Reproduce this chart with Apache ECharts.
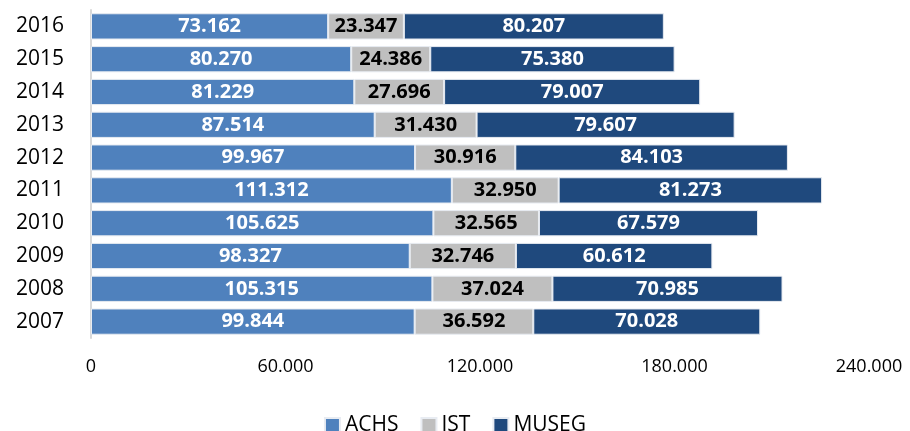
<!DOCTYPE html>
<html lang="es">
  <head>
    <meta charset="utf-8" />
    <title>ACHS IST MUSEG</title>
    <script src="https://cdn.jsdelivr.net/npm/echarts@6/dist/echarts.min.js"></script>
    <style>
      html, body { margin: 0; padding: 0; background: #fff; }
      #main { width: 910px; height: 431px; }
    </style>
  </head>
  <body>
    <div id="main"></div>
    <script>
      var years = ["2007", "2008", "2009", "2010", "2011", "2012", "2013", "2014", "2015", "2016"];
      var achs = [99844, 105315, 98327, 105625, 111312, 99967, 87514, 81229, 80270, 73162];
      var ist = [36592, 37024, 32746, 32565, 32950, 30916, 31430, 27696, 24386, 23347];
      var museg = [70028, 70985, 60612, 67579, 81273, 84103, 79607, 79007, 75380, 80207];

      var font = "Open Sans, Liberation Sans, sans-serif";

      // separador de miles con punto
      function fmt(v) {
        return String(v).replace(/\B(?=(\d{3})+(?!\d))/g, ".");
      }

      function serie(name, data, color, labelColor) {
        return {
          name: name,
          type: "bar",
          stack: "total",
          data: data,
          barCategoryGap: "20%",
          itemStyle: { color: color, borderColor: "#e8ecf2", borderWidth: 1 },
          label: {
            show: true,
            position: "inside",
            color: labelColor,
            fontFamily: font,
            fontWeight: "bold",
            fontSize: 20,
            formatter: function (p) { return fmt(p.value); }
          }
        };
      }

      var chart = echarts.init(document.getElementById("main"));
      chart.setOption({
        animation: false,
        grid: { left: 91, right: 41, top: 10, bottom: 93 },
        legend: {
          top: 410,
          left: "center",
          itemWidth: 15,
          itemHeight: 15,
          itemGap: 22,
          icon: "rect",
          textStyle: { fontFamily: font, fontSize: 21, color: "#000" },
          data: ["ACHS", "IST", "MUSEG"]
        },
        xAxis: {
          type: "value",
          min: 0,
          max: 240000,
          interval: 60000,
          axisLine: { show: false },
          axisTick: { show: false },
          splitLine: { show: false },
          axisLabel: {
            fontFamily: font,
            fontSize: 18,
            color: "#000",
            margin: 20,
            formatter: function (v) { return fmt(v); }
          }
        },
        yAxis: {
          type: "category",
          data: years,
          axisLine: { show: true, lineStyle: { color: "#d9d9d9", width: 2 } },
          axisTick: { show: false },
          axisLabel: { fontFamily: font, fontSize: 21, color: "#000", margin: 27 }
        },
        series: [
          serie("ACHS", achs, "#4f81bd", "#fff"),
          serie("IST", ist, "#bfbfbf", "#000"),
          serie("MUSEG", museg, "#1f497d", "#fff")
        ]
      });
    </script>
  </body>
</html>
